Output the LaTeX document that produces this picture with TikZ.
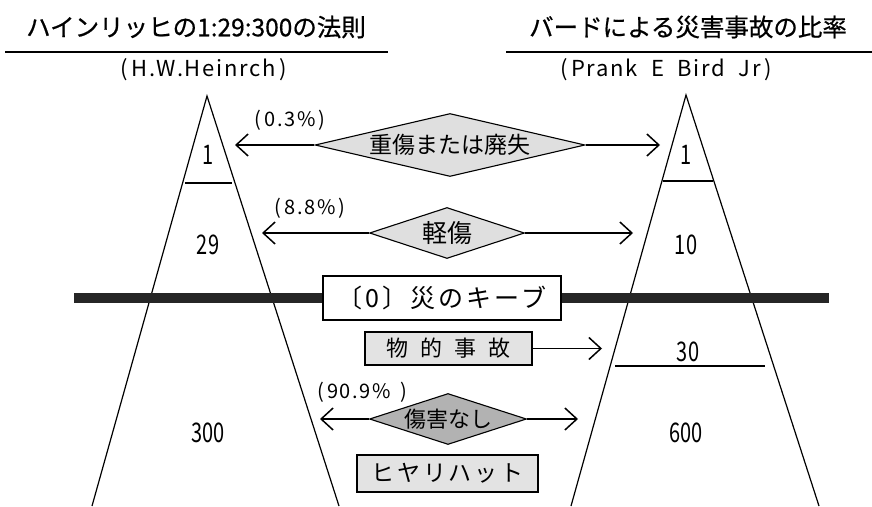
\documentclass[tikz,border=0pt]{standalone}
\usepackage{fontspec}
\setmainfont{Noto Sans CJK JP}
\newfontfamily\jpb[FakeBold=0.6]{Noto Sans CJK JP}
\newfontfamily\jpsp[LetterSpace=12]{Noto Sans CJK JP}
\newfontfamily\ltsp[LetterSpace=8]{Noto Sans CJK JP}
\usetikzlibrary{shapes.geometric,arrows.meta}
\newcommand{\cond}[1]{\scalebox{0.74}[1]{#1}}
\begin{document}
\begin{tikzpicture}[x=1pt,y=-1pt,
  title/.style={font=\jpb\fontsize{24.5}{28}\selectfont, inner sep=0pt},
  author/.style={font=\ltsp\fontsize{22}{24}\selectfont, inner sep=0pt},
  num/.style={font=\fontsize{27}{30}\selectfont, inner sep=0pt},
  pct/.style={font=\ltsp\fontsize{20}{22}\selectfont, inner sep=0pt},
  tri/.style={line width=1.2pt},
  sep/.style={line width=1.1pt},
  dia/.style={diamond, draw, line width=1.1pt, inner sep=0pt},
  lbox/.style={draw, line width=1.1pt, inner sep=0pt, fill=gray!22},
  conn/.style={line width=1.2pt, -{Straight Barb[length=12pt,width=22pt,line width=1.5pt]}},
]
\useasboundingbox (0,0) rectangle (872,506);
% titles
\node[title] (t1) at (196,27) {ハインリッヒの1:29:300の法則};
\node[title] (t2) at (688,27) {バードによる災害事故の比率};
\draw[line width=1.4pt] (5,52) -- (388,52);
\draw[line width=1.4pt] (506,52) -- (872,52);
\node[author] (a1) at (204,70) {(\,H.W.Heinrch\,)};
\node[author] (a2) at (666,70) {(\,Prank\ \ E\ \ Bird\ \ Jr\,)};
% triangles
\draw[tri] (92,506) -- (207,96) -- (339,506);
\draw[tri] (571,506) -- (686,95) -- (819,506);
\draw[sep] (185,183) -- (232,183);
\draw[sep] (663,181) -- (713,181);
\draw[sep] (615,366) -- (765,366);
% numbers
\node[num] (l1) at (208,155) {\cond{1}};
\node[num] (l29) at (208,245) {\cond{29}};
\node[num] (l300) at (208,433) {\cond{300}};
\node[num] (r1) at (686,155) {\cond{1}};
\node[num] (r10) at (686,245) {\cond{10}};
\node[num] (r30) at (688,352) {\cond{30}};
\node[num] (r600) at (686,433) {\cond{600}};
% band
\fill[gray!30!black] (74,293) rectangle (829,303);
\node[draw, line width=1.1pt, fill=white, minimum width=238pt, minimum height=44pt, inner sep=0pt,
  font=\jpsp\fontsize{25}{28}\selectfont] (key) at (442,298) {〔0〕災のキーブ};
% diamonds
\node[dia, fill=gray!25, minimum width=270pt, minimum height=63pt, aspect=4.3,
  font=\fontsize{23}{25}\selectfont] (d1) at (450,145) {重傷または廃失};
\node[dia, fill=gray!25, minimum width=155pt, minimum height=51pt, aspect=3,
  font=\fontsize{25}{27}\selectfont] (d2) at (447,233) {軽傷};
\node[dia, fill=gray!60, minimum width=157pt, minimum height=51pt, aspect=3,
  font=\fontsize{22}{24}\selectfont] (d3) at (448,419) {傷害なし};
\coordinate (e1l) at (235,145);
\coordinate (e1r) at (660,145);
\coordinate (e2l) at (262,233);
\coordinate (e2r) at (633,233);
\coordinate (e3l) at (320,419);
\coordinate (e3r) at (578,419);
\draw[conn] (d1.west) -- (e1l);
\draw[conn] (d1.east) -- (e1r);
\draw[conn] (d2.west) -- (e2l);
\draw[conn] (d2.east) -- (e2r);
\draw[conn] (d3.west) -- (e3l);
\draw[conn] (d3.east) -- (e3r);
% percentages
\node[pct] (p1) at (290,120) {(\,0.3\%\,)};
\node[pct] (p2) at (310,208) {(\,8.8\%\,)};
\node[pct] (p3) at (362,392) {(\,90.9\%\ \,)};
% boxes
\node[lbox, minimum width=167pt, minimum height=33pt, font=\fontsize{22}{24}\selectfont] (b1) at (448.5,348.5)
  {物\hspace{12pt}的\hspace{12pt}事\hspace{12pt}故};
\coordinate (e4) at (602,348.5);
\draw[conn] (b1.east) -- (e4);
\node[lbox, minimum width=181pt, minimum height=37pt, font=\jpsp\fontsize{23}{25}\selectfont] (b2) at (447.5,473.5)
  {ヒヤリハット};
\end{tikzpicture}
\end{document}
